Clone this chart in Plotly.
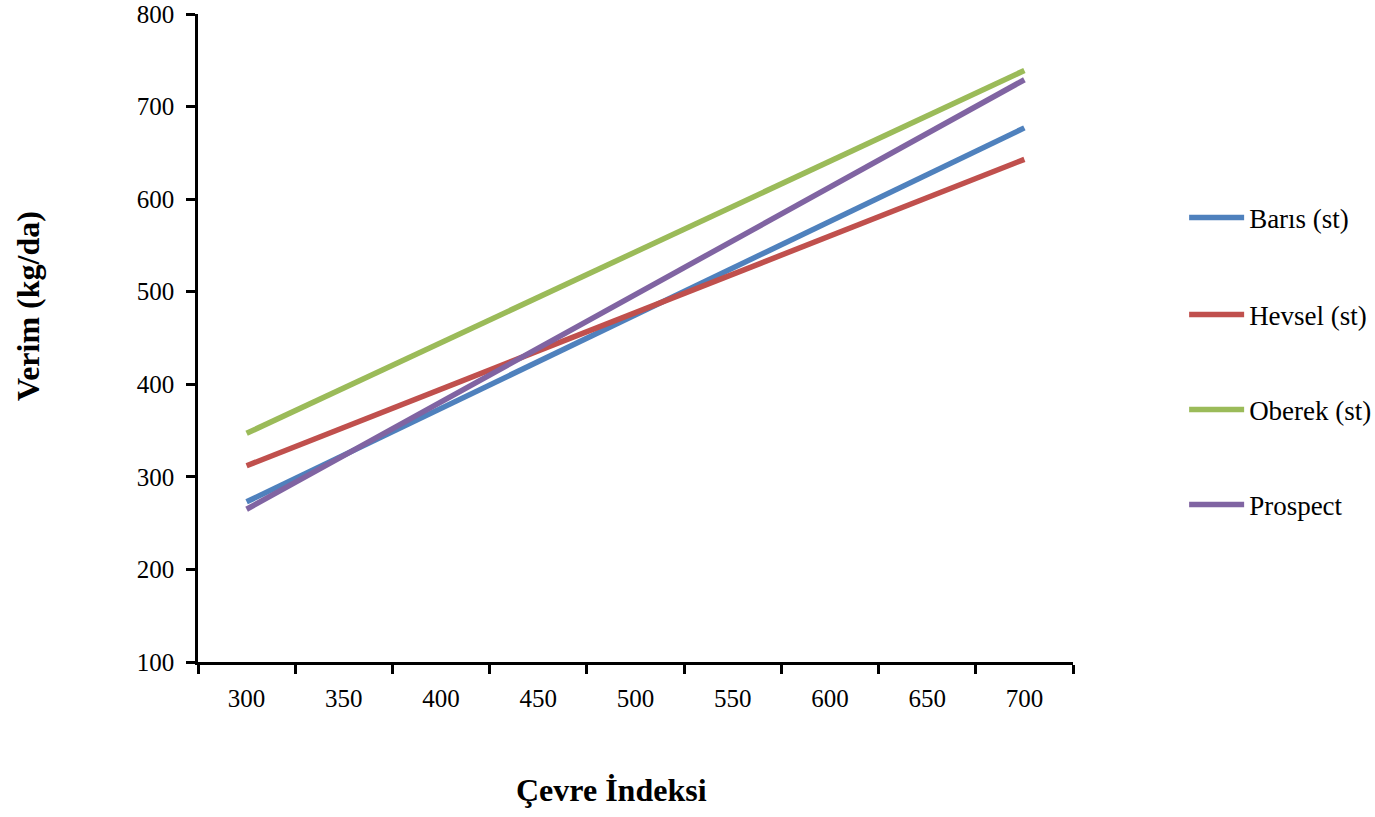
import plotly.graph_objects as go

x_vals = [300, 700]
baris = [273, 677]
hevsel = [312, 643]
oberek = [347, 739]
prospect = [265, 729]

names = ["Barıs (st)", "Hevsel (st)", "Oberek (st)", "Prospect"]
colors = ["#4F81BD", "#C0504D", "#9BBB59", "#8064A2"]
series = [baris, hevsel, oberek, prospect]

x_ticks = [300, 350, 400, 450, 500, 550, 600, 650, 700]
x_bounds = [275, 325, 375, 425, 475, 525, 575, 625, 675, 725]
y_ticks = [100, 200, 300, 400, 500, 600, 700, 800]

FONT = "Liberation Serif"

fig = go.Figure()
legends = ["legend", "legend2", "legend3", "legend4"]
for n, c, s, lg in zip(names, colors, series, legends):
    fig.add_trace(go.Scatter(x=x_vals, y=s, mode="lines", name=n,
                             line=dict(color=c, width=5.5), legend=lg))

leg_y = [218, 315, 410, 505]
layout_legs = {}
for lg, yy in zip(legends, leg_y):
    layout_legs[lg] = dict(x=1.127, xanchor="left", y=(662 - yy) / 648, yanchor="middle",
                           font=dict(family=FONT, size=27, color="black"),
                           bgcolor="rgba(0,0,0,0)", itemwidth=55)

fig.update_layout(
    width=1375, height=817,
    margin=dict(l=198, r=302, t=14, b=155, autoexpand=False),
    paper_bgcolor="white", plot_bgcolor="white",
    font=dict(family=FONT, size=25, color="black"),
    showlegend=True,
    xaxis=dict(range=[275, 725], tickvals=x_ticks, ticks="", showgrid=False,
               zeroline=False, showline=True, linecolor="black", linewidth=2.5,
               automargin=False,
               tickfont=dict(family=FONT, size=25), ticklabelstandoff=12,
               minor=dict(tickvals=x_bounds, ticks="outside", ticklen=9,
                          tickwidth=2.5, tickcolor="black", showgrid=False)),
    yaxis=dict(range=[100, 800], tickvals=y_ticks, ticks="outside", ticklen=9,
               tickwidth=2.5, tickcolor="black", showgrid=False, zeroline=False,
               showline=True, linecolor="black", linewidth=2.5, automargin=False,
               ticklabeloverflow="allow", ticklabelstandoff=7,
               tickfont=dict(family=FONT, size=25)),
    annotations=[
        dict(text="<b>Çevre İndeksi</b>", xref="paper", yref="paper",
             x=(611 - 198) / 875, y=(662 - 790) / 648, xanchor="center", yanchor="middle",
             showarrow=False, font=dict(family=FONT, size=32, color="black")),
        dict(text="<b>Verim (kg/da)</b>", xref="paper", yref="paper",
             x=(28 - 198) / 875, y=(662 - 306) / 648, xanchor="center", yanchor="middle",
             textangle=-90, showarrow=False, font=dict(family=FONT, size=32, color="black")),
    ],
    **layout_legs,
)

fig.write_html("out.html", config={"displayModeBar": False},
               post_script="document.body.style.margin='0';document.body.style.overflow='hidden';")
